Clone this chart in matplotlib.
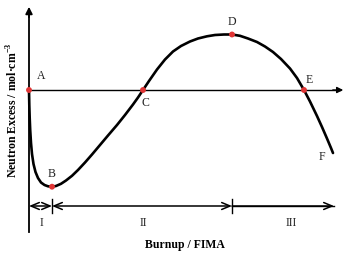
import numpy as np
import matplotlib.pyplot as plt

plt.rcParams['font.family'] = ['Liberation Serif', 'DejaVu Serif']
plt.rcParams['mathtext.fontset'] = 'custom'
plt.rcParams['mathtext.rm'] = 'Liberation Serif'
plt.rcParams['mathtext.bf'] = 'Liberation Serif:bold'

# curve traced from the schematic (pixel-like units, y grows downward)
curve_x = [29, 29.3, 29.7, 30.2, 31, 32, 33.5, 35.5, 38, 41, 44.5, 48, 52,
           56, 61, 66, 72, 78, 85, 92, 100, 108, 117, 125, 133, 138, 143,
           149, 157, 165, 173, 181, 190, 198, 207, 215, 224, 232, 240, 248,
           257, 265, 273, 281, 290, 297, 304, 310, 317, 322, 327, 331, 333]
curve_y = [90, 105, 118, 130, 143, 154, 164, 172, 178, 182.5, 185, 186.3,
           186.7, 186, 183.8, 180.5, 175.8, 170, 162.5, 154.5, 145, 135.5,
           125, 115, 104.5, 97.5, 90, 81, 69.5, 59.5, 51.5, 46, 41.5, 38.5,
           36.3, 35, 34.5, 34.5, 35.8, 38.5, 42, 46.5, 52, 59, 68.5, 78, 90,
           101.5, 116, 127, 138.5, 148, 153]

# marked points
pt_names = ['A', 'B', 'C', 'D', 'E']
pt_x = [29, 52, 143, 232, 304]
pt_y = [90, 186.7, 90, 34.5, 90]

# letter labels
lab_names = ['A', 'B', 'C', 'D', 'E', 'F']
lab_x = [41, 52, 145, 232, 309, 322]
lab_y = [76, 174, 103, 22, 80, 157]

# burnup regions
region_names = ['I', 'II', 'III']
region_edges = [29, 52, 232, 334]
region_label_x = [41, 143, 291]

fig = plt.figure(figsize=(3.61, 2.56), dpi=100)
ax = fig.add_axes([0, 0, 1, 1])
ax.set_xlim(0, 361)
ax.set_ylim(256, 0)
ax.axis('off')

# y axis with arrow
ax.plot([29, 29], [232, 12], color='black', lw=1.3)
ax.annotate('', xy=(29, 4), xytext=(29, 20),
            arrowprops=dict(arrowstyle='-|>', color='black', lw=1.3,
                            mutation_scale=10))
# horizontal zero line with arrow
ax.plot([29, 340], [90, 90], color='black', lw=1.0)
ax.annotate('', xy=(346, 90), xytext=(330, 90),
            arrowprops=dict(arrowstyle='-|>', color='black', lw=1.0,
                            mutation_scale=9))

# curve
ax.plot(curve_x, curve_y, color='black', lw=1.9, solid_capstyle='round',
        solid_joinstyle='round')
ax.scatter(pt_x, pt_y, s=18, color='#e03535', zorder=5, edgecolors='none')

for n, x, y in zip(lab_names, lab_x, lab_y):
    ax.text(x, y, n, ha='center', va='center', fontsize=8.5, color='#222222')

# region dimension arrows
y_dim = 206
ax.plot([region_edges[-2], region_edges[-1]], [y_dim, y_dim],
        color='black', lw=1.0)
for i in range(len(region_names)):
    x0, x1 = region_edges[i], region_edges[i + 1]
    style = '<->, head_length=0.6, head_width=0.25'
    if i == len(region_names) - 1:
        style = '<-, head_length=0.6, head_width=0.25'
    ax.annotate('', xy=(x0, y_dim), xytext=(x1, y_dim),
                arrowprops=dict(arrowstyle=style, color='black', lw=1.1,
                                mutation_scale=10, shrinkA=0, shrinkB=0))
    ax.text(region_label_x[i], 223, region_names[i], ha='center', va='center',
            fontsize=8.5, color='#222222')
for x in region_edges[1:3]:
    ax.plot([x, x], [199, 213], color='black', lw=1.0)

ax.text(185, 245, 'Burnup / FIMA', ha='center', va='center', fontsize=8.5,
        fontweight='bold')
ax.text(13, 110, 'Neutron Excess / mol·cm$^{\\mathbf{-3}}$', ha='center',
        va='center', rotation=90, fontsize=8.5, fontweight='bold')

fig.savefig('out.png', dpi=100)
